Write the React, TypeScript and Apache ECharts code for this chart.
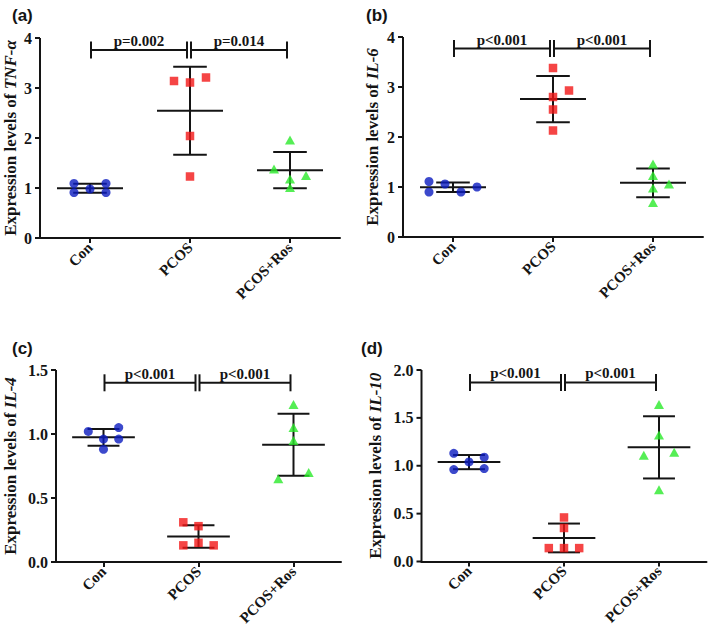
import React, { useEffect, useRef } from "react";
import * as echarts from "echarts";

// ---------- data ----------
const categories = ["Con", "PCOS", "PCOS+Ros"];
const panelLetters = ["(a)", "(b)", "(c)", "(d)"];
const geneNames = ["TNF-α", "IL-6", "IL-4", "IL-10"];
const yMaxes = [4, 4, 1.5, 2];
const ySteps = [1, 1, 0.5, 0.5];
const yDecimals = [0, 0, 1, 1];

// (a) TNF-α
const tnfCon = [1.09, 0.91, 0.98, 1.09, 0.91];
const tnfConJitter = [-0.16, -0.16, 0, 0.16, 0.16];
const tnfPcos = [3.14, 3.11, 3.21, 2.04, 1.23];
const tnfPcosJitter = [-0.16, 0, 0.16, 0, 0];
const tnfRos = [1.96, 1.38, 1.18, 1.25, 1.01];
const tnfRosJitter = [0, -0.16, 0, 0.16, 0];

// (b) IL-6
const il6Con = [1.11, 0.9, 1.06, 0.9, 1.0];
const il6ConJitter = [-0.24, -0.24, -0.08, 0.08, 0.24];
const il6Pcos = [3.38, 2.93, 2.8, 2.55, 2.13];
const il6PcosJitter = [0, 0.16, 0, 0, 0];
const il6Ros = [1.46, 1.23, 1.06, 0.98, 0.69];
const il6RosJitter = [0, 0, 0.16, 0, 0];

// (c) IL-4
const il4Con = [1.02, 1.05, 0.96, 0.96, 0.88];
const il4ConJitter = [-0.16, 0.16, 0, 0.16, 0];
const il4Pcos = [0.31, 0.28, 0.13, 0.15, 0.13];
const il4PcosJitter = [-0.16, 0, -0.16, 0, 0.16];
const il4Ros = [1.23, 1.05, 0.95, 0.65, 0.7];
const il4RosJitter = [0, 0, 0, -0.16, 0.16];

// (d) IL-10
const il10Con = [1.13, 1.09, 1.04, 0.96, 0.97];
const il10ConJitter = [-0.16, 0.16, 0, -0.16, 0.16];
const il10Pcos = [0.46, 0.35, 0.14, 0.14, 0.14];
const il10PcosJitter = [0, 0, -0.16, 0, 0.16];
const il10Ros = [1.64, 1.32, 1.11, 1.14, 0.75];
const il10RosJitter = [0, 0, -0.16, 0.16, 0];

// significance annotations
const pTexts = [
  ["p=0.002", "p=0.014"],
  ["p<0.001", "p<0.001"],
  ["p<0.001", "p<0.001"],
  ["p<0.001", "p<0.001"],
];
const bracketLevels = [3.76, 3.77, 1.4, 1.87];

const panelValues = [
  [tnfCon, tnfPcos, tnfRos],
  [il6Con, il6Pcos, il6Ros],
  [il4Con, il4Pcos, il4Ros],
  [il10Con, il10Pcos, il10Ros],
];
const panelJitters = [
  [tnfConJitter, tnfPcosJitter, tnfRosJitter],
  [il6ConJitter, il6PcosJitter, il6RosJitter],
  [il4ConJitter, il4PcosJitter, il4RosJitter],
  [il10ConJitter, il10PcosJitter, il10RosJitter],
];

// ---------- styling / layout ----------
const SERIF = '"Liberation Serif", "Times New Roman", serif';
const SANS = '"Liberation Sans", Arial, sans-serif';
const INK = "#141414";
const groupColors = ["#0b1bbf", "#f21616", "#2bea2b"];
const groupSymbols = ["circle", "rect", "triangle"];
const groupSizes: any[] = [9, 8.5, [10, 9]];

const grids = [
  { left: 40, top: 38, width: 300, height: 200 },
  { left: 403, top: 37, width: 300, height: 200 },
  { left: 56, top: 370, width: 285, height: 192 },
  { left: 421.5, top: 370, width: 285, height: 191.5 },
];
const nameGaps = [21, 22, 37, 38];
const letterPos = [
  [12, 7],
  [366, 7],
  [12, 340],
  [361, 340],
];

function meanOf(a: number[]) {
  return a.reduce((s, v) => s + v, 0) / a.length;
}
function sdOf(a: number[]) {
  const m = meanOf(a);
  return Math.sqrt(a.reduce((s, v) => s + (v - m) * (v - m), 0) / (a.length - 1));
}

// group i is centred at i + 0.5 on the x value axis [0, 3]
const centre = (gi: number) => gi + 0.5;
const centres = categories.map((_, i) => centre(i));

const ln = (x1: number, y1: number, x2: number, y2: number) => ({
  type: "line",
  shape: { x1, y1, x2, y2 },
  style: { stroke: INK, lineWidth: 2 },
});

function buildOption() {
  const xAxis: any[] = [];
  const yAxis: any[] = [];
  const series: any[] = [];
  const graphic: any[] = [];

  grids.forEach((g, p) => {
    xAxis.push({
      type: "value",
      gridIndex: p,
      min: 0,
      max: categories.length,
      axisLine: { show: true, onZero: false, lineStyle: { color: INK, width: 2 } },
      axisTick: {
        show: true,
        customValues: centres,
        length: 5,
        lineStyle: { color: INK, width: 2 },
      },
      axisLabel: {
        customValues: centres,
        formatter: (v: number) => categories[Math.round(v - 0.5)] ?? "",
        rotate: 45,
        margin: 7,
        color: INK,
        fontFamily: SERIF,
        fontWeight: "bold",
        fontSize: 15,
      },
      splitLine: { show: false },
    });
    const dec = yDecimals[p];
    yAxis.push({
      type: "value",
      gridIndex: p,
      min: 0,
      max: yMaxes[p],
      interval: ySteps[p],
      name: `Expression levels of {i|${geneNames[p]}}`,
      nameLocation: "middle",
      nameGap: nameGaps[p],
      nameTextStyle: {
        color: INK,
        fontFamily: SERIF,
        fontWeight: "bold",
        fontSize: 17,
        rich: {
          i: {
            color: INK,
            fontFamily: SERIF,
            fontWeight: "bold",
            fontStyle: "italic",
            fontSize: 17,
          },
        },
      },
      axisLine: { show: false, onZero: false },
      axisTick: { show: false },
      axisLabel: {
        margin: 8,
        color: INK,
        fontFamily: SERIF,
        fontWeight: "bold",
        fontSize: 16,
        formatter: (v: number) => v.toFixed(dec),
      },
      splitLine: { show: false },
    });

    // y axis line and ticks, drawn through the panel's own scales
    const tickVals: number[] = [];
    for (let k = 0; k * ySteps[p] <= yMaxes[p] + 1e-9; k++) tickVals.push(k * ySteps[p]);
    const ymax = yMaxes[p];
    series.push({
      type: "custom",
      xAxisIndex: p,
      yAxisIndex: p,
      clip: false,
      data: tickVals.map((v) => [0, v]),
      encode: { x: 0, y: 1 },
      renderItem: (params: any, api: any) => {
        const pt = api.coord([0, api.value(1)]);
        const children: any[] = [ln(pt[0] - 5, pt[1], pt[0], pt[1])];
        if (params.dataIndex === 0) {
          const a = api.coord([0, 0]);
          const b = api.coord([0, ymax]);
          children.push(ln(a[0], a[1] + 1, b[0], b[1]));
        }
        return { type: "group", children };
      },
    });

    const vals = panelValues[p];
    const jit = panelJitters[p];

    // mean ± SD lines
    series.push({
      type: "custom",
      xAxisIndex: p,
      yAxisIndex: p,
      clip: false,
      data: vals.map((arr, gi) => [centre(gi), meanOf(arr), sdOf(arr)]),
      encode: { x: 0, y: 1 },
      renderItem: (params: any, api: any) => {
        const gx = api.value(0);
        const m = api.value(1);
        const s = api.value(2);
        const c = api.coord([gx, m]);
        const top = api.coord([gx, m + s]);
        const bot = api.coord([gx, m - s]);
        const band = api.size([1, 0])[0];
        const mh = band * 0.33;
        const ch = band * 0.168;
        return {
          type: "group",
          children: [
            ln(c[0], top[1], c[0], bot[1]),
            ln(c[0] - mh, c[1], c[0] + mh, c[1]),
            ln(c[0] - ch, top[1], c[0] + ch, top[1]),
            ln(c[0] - ch, bot[1], c[0] + ch, bot[1]),
          ],
        };
      },
    });

    // points
    vals.forEach((arr, gi) => {
      series.push({
        type: "scatter",
        xAxisIndex: p,
        yAxisIndex: p,
        symbol: groupSymbols[gi],
        symbolSize: groupSizes[gi],
        itemStyle: { color: groupColors[gi] },
        data: arr.map((v, k) => [centre(gi) + jit[gi][k], v]),
      });
    });

    // significance brackets: [start centre, level, end centre]
    const texts = pTexts[p];
    series.push({
      type: "custom",
      xAxisIndex: p,
      yAxisIndex: p,
      clip: false,
      data: [
        [centre(0), bracketLevels[p], centre(1)],
        [centre(1), bracketLevels[p], centre(2)],
      ],
      encode: { x: 0, y: 1 },
      renderItem: (params: any, api: any) => {
        const a = api.coord([api.value(0), api.value(1)]);
        const b = api.coord([api.value(2), api.value(1)]);
        const x1 = a[0] + 1;
        const x2 = b[0] - 3;
        const y = a[1];
        return {
          type: "group",
          children: [
            ln(x1, y, x2, y),
            ln(x1, y - 8.5, x1, y + 8.5),
            ln(x2, y - 8.5, x2, y + 8.5),
            {
              type: "text",
              x: (x1 + x2) / 2,
              y: y - 9,
              style: {
                text: texts[params.dataIndex],
                fill: INK,
                align: "center",
                verticalAlign: "middle",
                fontFamily: SERIF,
                fontWeight: "bold",
                fontSize: 15,
              },
            },
          ],
        };
      },
    });

    graphic.push({
      type: "text",
      left: letterPos[p][0],
      top: letterPos[p][1],
      style: {
        text: panelLetters[p],
        fill: INK,
        fontFamily: SANS,
        fontWeight: "bold",
        fontSize: 17,
      },
    });
  });

  return {
    animation: false,
    backgroundColor: "#ffffff",
    grid: grids,
    xAxis,
    yAxis,
    series,
    graphic,
  };
}

export default function App() {
  const ref = useRef<HTMLDivElement>(null);
  useEffect(() => {
    if (!ref.current) return;
    const chart = echarts.init(ref.current, undefined, { renderer: "svg" });
    chart.setOption(buildOption() as any);
    return () => chart.dispose();
  }, []);
  return (
    <div
      ref={ref}
      style={{ position: "fixed", left: 0, top: 0, width: 709, height: 630, background: "#fff" }}
    />
  );
}
